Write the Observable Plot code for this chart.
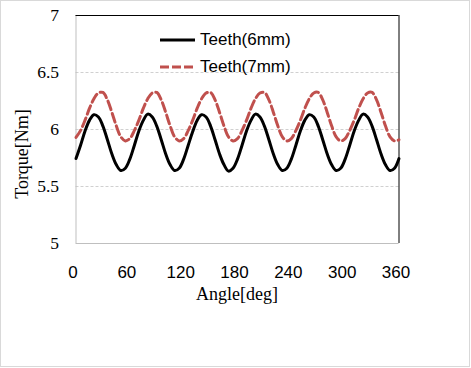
<!DOCTYPE html>
<html>
<head>
<meta charset="utf-8">
<script src="https://cdn.jsdelivr.net/npm/d3@7"></script>
<script src="https://cdn.jsdelivr.net/npm/@observablehq/plot@0.6"></script>
<style>
  html, body { margin: 0; padding: 0; background: #fff; }
  #wrap { position: relative; width: 471px; height: 368px; overflow: hidden; }
  #border { position: absolute; left: 0; top: 0; width: 470px; height: 367px; box-sizing: border-box; border: 1.5px solid #d9d9d9; pointer-events: none; }
  .leg { position: absolute; left: 160px; font-family: "Liberation Sans", Arial, sans-serif; font-size: 17px; color: #000; display: flex; align-items: center; }
  .leg svg { margin-right: 4px; }
</style>
</head>
<body>
<div id="wrap">
  <div id="chart"></div>
  <div class="leg" style="top:30px;"><svg width="36" height="6"><line x1="0" y1="3" x2="35" y2="3" stroke="#000" stroke-width="3"/></svg><span>Teeth(6mm)</span></div>
  <div class="leg" style="top:57px;"><svg width="36" height="6"><line x1="0" y1="3" x2="35" y2="3" stroke="#c0504d" stroke-width="3" stroke-dasharray="9,3"/></svg><span>Teeth(7mm)</span></div>
  <div id="border"></div>
</div>
<script>
const seriesNames = ["Teeth(6mm)", "Teeth(7mm)"];
const angles = [0,5,10,15,20,25,30,35,40,45,50,55,
  60,65,70,75,80,85,90,95,100,105,110,115,
  120,125,130,135,140,145,150,155,160,165,170,175,
  180,185,190,195,200,205,210,215,220,225,230,235,
  240,245,250,255,260,265,270,275,280,285,290,295,
  300,305,310,315,320,325,330,335,340,345,350,355,360];
const teeth6 = [5.745,5.86,5.985,6.08,6.13,6.11,6.03,5.91,5.785,5.69,5.64,5.66,
  5.74,5.86,5.985,6.08,6.135,6.11,6.03,5.91,5.785,5.69,5.64,5.66,
  5.74,5.86,5.98,6.08,6.13,6.11,6.03,5.91,5.785,5.69,5.635,5.66,
  5.74,5.86,5.985,6.08,6.135,6.11,6.03,5.91,5.785,5.69,5.64,5.66,
  5.74,5.86,5.985,6.08,6.13,6.11,6.03,5.91,5.785,5.69,5.64,5.66,
  5.74,5.86,5.985,6.08,6.135,6.11,6.03,5.91,5.785,5.69,5.64,5.66,5.745];
const teeth7 = [5.93,5.99,6.08,6.185,6.27,6.32,6.325,6.26,6.15,6.03,5.935,5.90,
  5.92,5.99,6.08,6.185,6.27,6.32,6.325,6.26,6.15,6.03,5.935,5.90,
  5.92,5.99,6.08,6.185,6.27,6.32,6.325,6.26,6.15,6.03,5.935,5.90,
  5.92,5.99,6.08,6.185,6.27,6.32,6.325,6.26,6.15,6.03,5.935,5.90,
  5.92,5.99,6.08,6.185,6.27,6.32,6.325,6.26,6.15,6.03,5.935,5.90,
  5.92,5.99,6.08,6.185,6.27,6.32,6.325,6.26,6.15,6.03,5.935,5.90,5.91];
const xTicks = [0,60,120,180,240,300,360];
const yTicks = [5,5.5,6,6.5,7];
const gridValues = [5.5,6,6.5];
const xTitle = "Angle[deg]";
const yTitle = "Torque[Nm]";

const d6 = angles.map((a,i) => ({angle:a, torque:teeth6[i], s:seriesNames[0]}));
const d7 = angles.map((a,i) => ({angle:a, torque:teeth7[i], s:seriesNames[1]}));

const chart = Plot.plot({
  width: 471,
  height: 368,
  marginLeft: 75.5,
  marginRight: 72.5,
  marginTop: 15,
  marginBottom: 125,
  x: {domain: [0,360]},
  y: {domain: [5,7]},
  marks: [
    Plot.gridY(gridValues, {stroke: "#d0d0d0", strokeOpacity: 1, strokeDasharray: "3,2"}),
    Plot.ruleX([0], {stroke: "#bfbfbf", strokeWidth: 1}),
    Plot.ruleY([5], {stroke: "#bfbfbf", strokeWidth: 1}),
    Plot.ruleY([7], {stroke: "#000", strokeWidth: 1}),
    Plot.ruleX([360], {stroke: "#000", strokeWidth: 1}),
    Plot.line(d7, {x: "angle", y: "torque", stroke: "#c0504d", strokeWidth: 3, strokeDasharray: "9,4", curve: "catmull-rom"}),
    Plot.line(d6, {x: "angle", y: "torque", stroke: "#000", strokeWidth: 3, curve: "catmull-rom"}),
    Plot.axisY(yTicks, {tickSize: 0, tickPadding: 17, tickFormat: d => String(d), fontSize: 17.5, fontFamily: "'Liberation Serif', 'Times New Roman', serif", label: null}),
    Plot.axisX(xTicks, {tickSize: 0, tickPadding: 22, dx: -3, tickFormat: d => String(d), fontSize: 17, fontFamily: "'Liberation Sans', Arial, sans-serif", label: null})
  ]
});
chart.style.color = "#000";
const svg = d3.select(chart);
svg.append("text")
  .attr("x", 237).attr("y", 300)
  .attr("text-anchor", "middle")
  .attr("font-family", "'Liberation Serif', 'Times New Roman', serif")
  .attr("font-size", 18).attr("fill", "#000")
  .text(xTitle);
svg.append("text")
  .attr("transform", "translate(28,154) rotate(-90)")
  .attr("text-anchor", "middle")
  .attr("font-family", "'Liberation Serif', 'Times New Roman', serif")
  .attr("font-size", 18).attr("fill", "#000")
  .text(yTitle);
document.getElementById("chart").appendChild(chart);
</script>
</body>
</html>
